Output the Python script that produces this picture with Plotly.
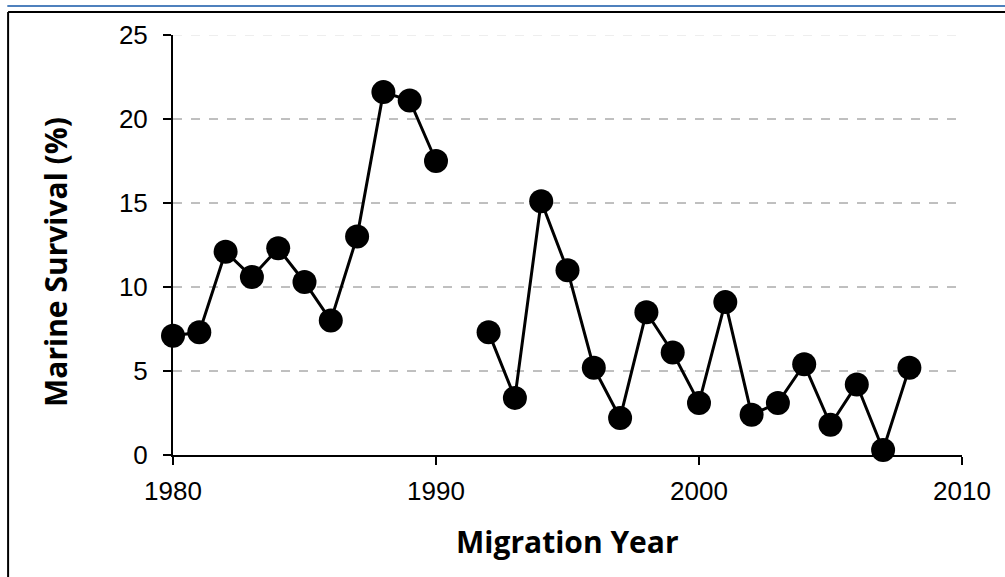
import plotly.graph_objects as go

years = list(range(1980, 2009))
survival = [7.1, 7.3, 12.1, 10.6, 12.3, 10.3, 8.0, 13.0, 21.6, 21.1, 17.5, None,
            7.3, 3.4, 15.1, 11.0, 5.2, 2.2, 8.5, 6.1, 3.1, 9.1, 2.4, 3.1,
            5.4, 1.8, 4.2, 0.3, 5.2]

x_ticks = [1980, 1990, 2000, 2010]
y_ticks = [0, 5, 10, 15, 20, 25]
grid_vals = [5, 10, 15, 20]
top_grid = 25

TICK_FONT = 'Liberation Sans, Arial, sans-serif'
TITLE_FONT = 'Open Sans, Calibri, sans-serif'

fig = go.Figure()
fig.add_trace(go.Scatter(
    x=years, y=survival, mode='lines+markers',
    line=dict(color='black', width=3),
    marker=dict(color='black', size=24),
    connectgaps=False, cliponaxis=False, showlegend=False,
))

shapes = []
for g in grid_vals:
    shapes.append(dict(type='line', xref='paper', yref='y', x0=0, x1=1, y0=g, y1=g,
                       line=dict(color='#808080', width=1, dash='dash'), layer='below'))
shapes.append(dict(type='line', xref='paper', yref='y', x0=0, x1=1, y0=top_grid, y1=top_grid,
                   line=dict(color='#dddddd', width=1, dash='dash'), layer='below'))

# outer frame of the chart area
shapes += [
    dict(type='line', xref='paper', yref='paper', x0=-0.21, x1=1.06, y0=1.069, y1=1.069,
         line=dict(color='#4f81bd', width=2)),
    dict(type='line', xref='paper', yref='paper', x0=-0.209, x1=1.06, y0=1.055, y1=1.055,
         line=dict(color='black', width=2)),
    dict(type='line', xref='paper', yref='paper', x0=-0.209, x1=-0.209, y0=1.055, y1=-0.3,
         line=dict(color='black', width=2)),
]

fig.update_layout(
    width=1005, height=577,
    margin=dict(l=173, r=43, t=35, b=122),
    plot_bgcolor='white', paper_bgcolor='white',
    font=dict(family=TICK_FONT, color='black'),
    xaxis=dict(range=[1980, 2010], tickvals=x_ticks,
               showgrid=False, zeroline=False, showline=True, linecolor='black', linewidth=2,
               ticks='outside', ticklen=8, tickwidth=2, tickcolor='black',
               ticklabelstandoff=4,
               tickfont=dict(size=26, family=TICK_FONT)),
    yaxis=dict(range=[0, 25], tickvals=y_ticks,
               showgrid=False, zeroline=False, showline=True, linecolor='black', linewidth=2,
               ticks='outside', ticklen=8, tickwidth=2, tickcolor='black',
               ticklabelstandoff=10,
               tickfont=dict(size=26, family=TICK_FONT)),
    shapes=shapes,
    annotations=[
        dict(text='<b>Migration Year</b>', xref='paper', yref='paper', x=0.5, y=-0.205,
             xanchor='center', yanchor='middle',
             showarrow=False, font=dict(size=30, family=TITLE_FONT)),
        dict(text='<b>Marine Survival (%)</b>', xref='paper', yref='paper', x=-0.148, y=0.46,
             xanchor='center', yanchor='middle',
             textangle=-90, showarrow=False, font=dict(size=30, family=TITLE_FONT)),
    ],
)

fig.write_html("out.html", config={'displayModeBar': False},
               post_script="document.body.style.margin='0';")
